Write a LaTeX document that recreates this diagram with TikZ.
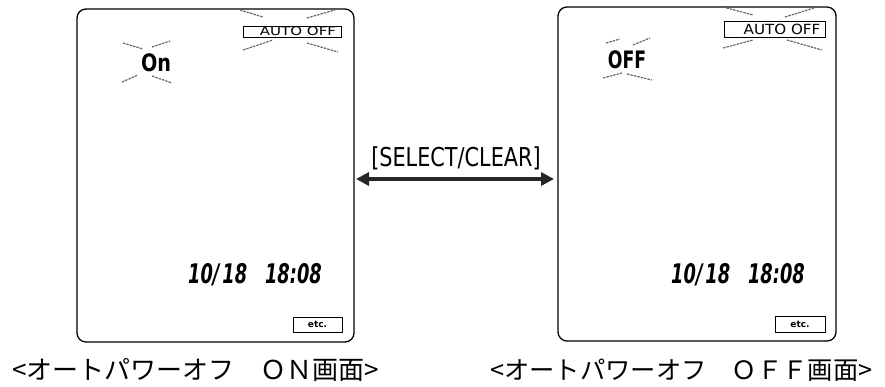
\documentclass[tikz,border=0pt]{standalone}
\usepackage{fontspec}
\usetikzlibrary{arrows.meta}
\newfontfamily\cjk{Noto Sans CJK JP}
\newfontfamily\lcd{DejaVu Sans}
\tikzset{
  frame/.style={draw, line width=1.3pt, rounded corners=9pt, inner sep=0pt},
  tagbox/.style={draw, line width=1pt, inner sep=0pt},
  ray/.style={line width=1.2pt, dash pattern=on 2.5pt off 1pt, black!60},
  caption/.style={font=\cjk, anchor=west, inner sep=0pt},
  lcdtext/.style={font=\lcd\bfseries, inner sep=0pt},
}
\begin{document}
\begin{tikzpicture}[x=1pt,y=-1pt]
\useasboundingbox (0,0) rectangle (885,386);
% panels
\draw[frame] (77,9) rectangle (354,342);
\draw[frame] (558,7) rectangle (836,341);
% AUTO OFF boxes
\draw[tagbox] (243,26) rectangle (341,37);
\node[inner sep=0pt] (lauto) at (298,31.5) {\scalebox{1.2}[0.95]{\lcd\fontsize{12.5}{13}\selectfont AUTO\ OFF}};
\draw[tagbox] (724,21) rectangle (825,37);
\node[inner sep=0pt] (rauto) at (782,29) {\scalebox{1.08}[1]{\lcd\fontsize{14}{15}\selectfont AUTO\ OFF}};
% rays left AUTO OFF
\draw[ray] (240,10) -- (263,17);
\draw[ray] (307,18) -- (335,10);
\draw[ray] (243,50) -- (273,40);
\draw[ray] (307,43) -- (338,52);
% rays right AUTO OFF
\draw[ray] (723,7) -- (753,15);
\draw[ray] (785,17) -- (817,7);
\draw[ray] (723,48) -- (753,40);
\draw[ray] (787,40) -- (822,50);
% On
\node[lcdtext] (on) at (156,63) {\scalebox{0.8}[1]{\fontsize{24}{26}\selectfont On}};
\draw[ray] (123,43) -- (143,49);
\draw[ray] (152,47) -- (170,41);
\draw[ray] (122,82) -- (138,75);
\draw[ray] (152,76) -- (172,83);
% OFF
\node[lcdtext] (off) at (627,60) {\scalebox{0.72}[1]{\fontsize{24}{26}\selectfont OFF}};
\draw[ray] (606,43) -- (620,39);
\draw[ray] (633,45) -- (650,38);
\draw[ray] (603,78) -- (622,73);
\draw[ray] (627,74) -- (652,80);
% dates
\node[lcdtext, font=\lcd\bfseries\itshape] (ldate) at (255,275) {\scalebox{0.66}[1]{\fontsize{27}{30}\selectfont 10/\,18\quad 18:08}};
\node[lcdtext, font=\lcd\bfseries\itshape] (rdate) at (738,275) {\scalebox{0.66}[1]{\fontsize{27}{30}\selectfont 10/\,18\quad 18:08}};
% etc boxes
\draw[tagbox] (293,317) rectangle (342,332);
\node[inner sep=0pt] (letc) at (317.5,324.5) {\lcd\bfseries\fontsize{9}{10}\selectfont etc.};
\draw[tagbox] (775,316) rectangle (825,332);
\node[inner sep=0pt] (retc) at (800,324) {\lcd\bfseries\fontsize{9}{10}\selectfont etc.};
% arrow
\coordinate (al) at (356,179);
\coordinate (ar) at (554,179);
\draw[line width=3.5pt, {Triangle[length=13pt,width=13pt]}-{Triangle[length=13pt,width=13pt]}, black!85] (al) -- (ar);
\node[inner sep=0pt] (sel) at (456,158) {\scalebox{0.8}[1]{\lcd\fontsize{26}{28}\selectfont [SELECT/CLEAR]}};
% captions
\node[caption] (lcap) at (12,370) {\fontsize{26}{28}\selectfont <オートパワーオフ　ＯＮ画面>};
\node[caption] (rcap) at (490,370) {\fontsize{25.3}{28}\selectfont <オートパワーオフ　ＯＦＦ画面>};
\end{tikzpicture}
\end{document}
